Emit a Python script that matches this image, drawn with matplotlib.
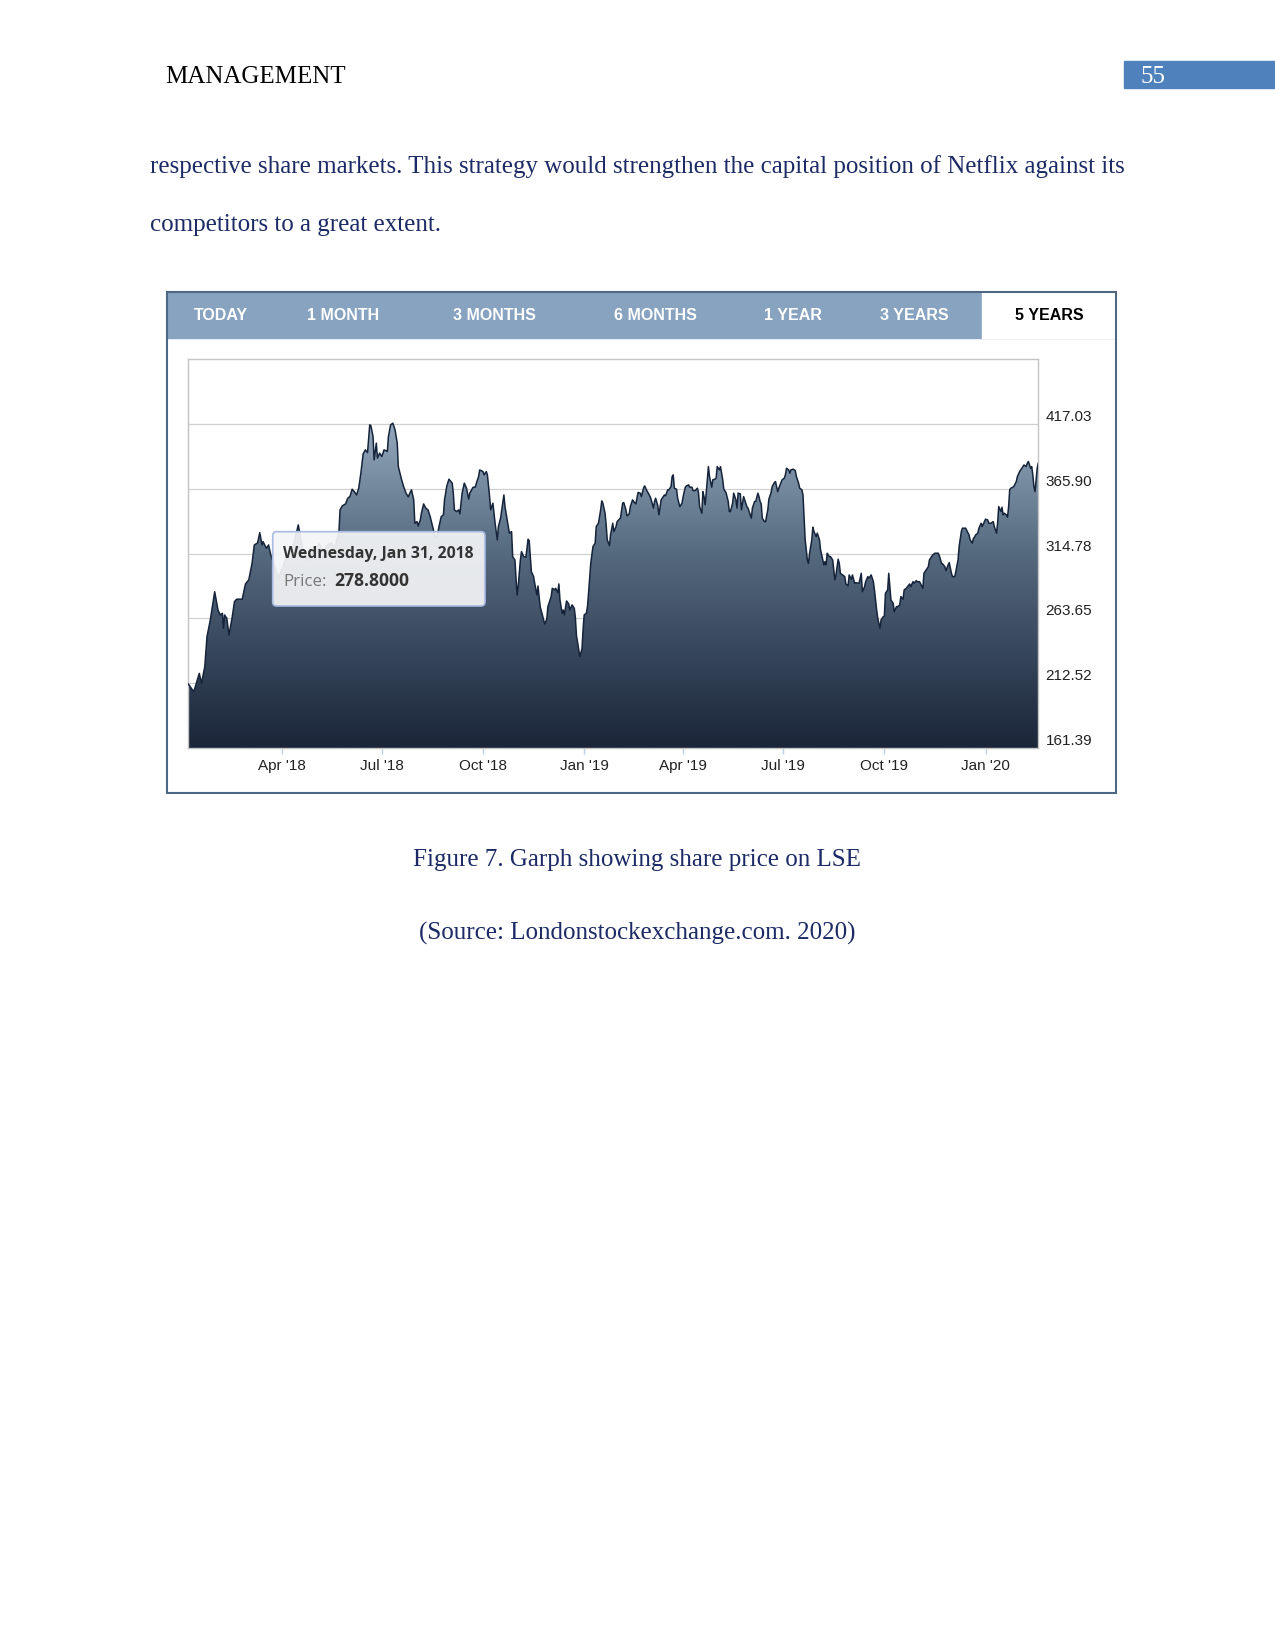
import numpy as np
import pandas as pd
import matplotlib
matplotlib.use("Agg")
import matplotlib.pyplot as plt
import matplotlib.dates as mdates
from matplotlib.colors import LinearSegmentedColormap
from matplotlib.patches import Rectangle, FancyBboxPatch
from matplotlib.transforms import Affine2D

# Share price (day = days since 2018-01-01)
day = [5, 10, 15, 17, 20, 22, 25, 29, 32, 34, 36, 37, 38, 40, 42, 45, 47, 49, 54, 57,
       60, 63, 65, 68, 70, 72, 73, 76, 78, 80, 83, 87, 90, 94, 98, 101, 105, 107, 109, 113,
       117, 120, 124, 128, 131, 135, 138, 142, 143, 145, 148, 150, 152, 154, 156, 158, 160, 162, 164, 166,
       168, 170, 171, 173, 174, 176, 177, 179, 181, 183, 186, 187, 189, 191, 193, 195, 196, 199, 201, 203,
       205, 207, 208, 210, 211, 213, 214, 216, 217, 219, 221, 223, 225, 227, 229, 231, 233, 235, 237, 238,
       240, 242, 245, 246, 247, 249, 251, 252, 254, 256, 258, 260, 261, 264, 266, 267, 269, 270, 273, 274,
       276, 277, 279, 280, 282, 284, 286, 287, 289, 292, 293, 295, 297, 299, 300, 302, 304, 305, 307, 308,
       310, 312, 314, 315, 317, 319, 320, 322, 323, 325, 327, 329, 331, 332, 335, 336, 338, 339, 341, 342,
       343, 345, 346, 347, 349, 351, 352, 354, 356, 357, 358, 360, 361, 363, 364, 365, 367, 368, 369, 371,
       373, 375, 376, 378, 380, 381, 382, 384, 385, 386, 388, 389, 391, 392, 394, 395, 397, 398, 400, 401,
       403, 404, 406, 407, 409, 410, 412, 414, 416, 417, 419, 420, 422, 423, 425, 426, 428, 429, 430, 432,
       433, 435, 436, 438, 439, 441, 442, 444, 445, 446, 447, 449, 450, 452, 454, 455, 457, 458, 460, 461,
       463, 464, 466, 468, 469, 470, 472, 473, 474, 475, 476, 478, 479, 481, 482, 484, 485, 486, 488, 489,
       491, 492, 494, 496, 497, 498, 500, 501, 503, 504, 505, 507, 508, 509, 510, 512, 513, 514, 516, 517,
       518, 520, 521, 523, 524, 525, 526, 527, 529, 530, 532, 533, 535, 536, 538, 539, 541, 542, 544, 545,
       547, 548, 549, 551, 552, 553, 555, 557, 558, 560, 561, 563, 564, 566, 567, 568, 569, 570, 572, 573,
       574, 576, 577, 579, 580, 582, 583, 584, 585, 586, 588, 589, 591, 593, 594, 596, 597, 598, 600, 602,
       603, 605, 606, 608, 609, 611, 612, 614, 615, 617, 618, 620, 621, 623, 624, 626, 628, 629, 631, 632,
       634, 635, 637, 638, 639, 641, 642, 643, 644, 646, 647, 649, 650, 652, 653, 655, 656, 658, 659, 661,
       662, 664, 665, 667, 668, 670, 671, 673, 674, 676, 678, 679, 681, 682, 684, 687, 688, 690, 691, 693,
       694, 696, 697, 699, 700, 702, 703, 705, 706, 708, 709, 712, 713, 715, 716, 718, 719, 720, 721, 723,
       724, 726, 727, 729, 730, 732, 733, 735, 737, 738, 740, 741, 742, 744, 745, 746, 747, 749, 750, 751,
       752, 753, 755, 756, 758, 759, 761, 762, 764, 765, 767, 768, 769, 770, 771, 772, 773, 774, 775, 776,
       777, 778]
price = [212.0, 205.9, 220.4, 212.6, 225.7, 249.3, 262.4, 284.7, 270.3, 266.4, 267.7, 255.9, 266.4, 263.8, 250.6, 265.0, 276.9, 278.8, 278.8, 290.8,
         294.0, 307.1, 321.5, 323.1, 331.2, 321.5, 324.1, 318.9, 321.5, 313.7, 305.8, 295.5, 301.8, 311.3, 317.6, 322.5, 337.3, 328.0, 318.5, 309.7,
         314.0, 318.1, 322.4, 315.2, 321.0, 323.2, 318.5, 332.0, 349.1, 352.3, 353.8, 358.3, 359.6, 365.4, 363.5, 360.9, 366.2, 378.5, 393.2, 396.4,
         394.3, 416.1, 415.5, 406.9, 388.5, 401.7, 389.9, 393.8, 391.1, 396.4, 395.1, 406.9, 416.1, 417.4, 412.2, 401.7, 383.2, 372.8, 367.0, 362.3,
         359.4, 363.3, 364.9, 357.0, 338.6, 339.9, 336.5, 341.2, 346.5, 353.8, 350.5, 349.1, 343.8, 336.5, 329.4, 327.1, 336.0, 343.8, 345.2, 357.0,
         367.5, 373.3, 370.2, 362.3, 349.1, 347.8, 349.1, 346.0, 362.3, 370.2, 366.2, 357.6, 362.3, 367.0, 367.0, 370.2, 375.4, 380.6, 379.3, 376.7,
         379.3, 376.7, 359.6, 349.1, 354.4, 338.6, 325.5, 336.0, 342.6, 360.9, 351.7, 341.2, 330.8, 332.0, 312.3, 309.7, 282.1, 288.7, 309.7, 316.3,
         312.3, 311.8, 326.0, 324.9, 300.5, 296.6, 291.4, 282.1, 289.2, 272.9, 266.4, 259.3, 263.0, 272.9, 280.8, 287.4, 286.1, 287.4, 284.0, 290.8,
         278.2, 267.7, 270.3, 266.4, 277.4, 275.0, 270.3, 274.3, 271.7, 264.5, 250.1, 239.6, 233.6, 239.6, 254.6, 266.4, 267.7, 272.9, 283.5, 307.1,
         320.2, 322.9, 336.0, 338.6, 349.1, 356.2, 354.4, 346.5, 337.3, 325.5, 321.0, 329.4, 338.6, 332.0, 336.0, 339.9, 341.8, 342.6, 354.4, 354.9,
         349.1, 344.4, 346.0, 351.7, 357.0, 355.7, 353.8, 362.8, 362.3, 359.6, 366.2, 368.0, 364.3, 362.8, 359.6, 357.0, 350.5, 355.7, 358.3, 352.3,
         345.2, 357.0, 358.3, 360.9, 360.2, 364.9, 364.9, 367.5, 375.4, 376.7, 366.2, 365.4, 358.3, 351.7, 354.4, 359.6, 367.0, 368.0, 368.8, 367.0,
         367.0, 364.3, 364.3, 366.2, 362.3, 351.7, 346.5, 363.5, 359.6, 353.1, 362.3, 383.2, 375.4, 367.0, 372.8, 373.3, 374.1, 383.2, 380.6, 383.2,
         372.8, 365.4, 362.8, 355.7, 347.8, 347.8, 354.4, 362.3, 357.0, 350.5, 362.3, 361.8, 349.1, 354.4, 359.6, 354.4, 351.7, 350.5, 345.2, 342.6,
         350.5, 355.7, 355.7, 362.3, 359.6, 355.7, 353.8, 342.6, 339.9, 339.9, 349.1, 357.6, 362.8, 367.5, 370.6, 371.4, 363.5, 366.2, 370.6, 372.8,
         374.1, 376.7, 381.9, 380.6, 378.0, 380.6, 381.2, 380.1, 375.4, 370.2, 366.2, 364.9, 360.9, 325.5, 317.6, 309.7, 307.1, 315.0, 325.5, 335.5,
         332.0, 328.1, 330.8, 325.5, 317.6, 309.7, 305.8, 308.3, 305.8, 315.0, 312.3, 312.3, 309.7, 294.0, 297.9, 310.3, 307.1, 299.2, 297.9, 296.6,
         290.8, 289.4, 297.9, 294.5, 297.9, 291.4, 291.8, 291.4, 291.4, 299.2, 284.7, 288.6, 292.6, 296.6, 295.3, 297.9, 292.6, 286.1, 270.3, 263.8,
         255.9, 262.4, 265.0, 265.6, 283.5, 286.1, 299.2, 288.6, 278.2, 275.6, 269.0, 272.9, 272.9, 274.3, 280.8, 278.8, 286.1, 287.4, 288.6, 290.8,
         288.6, 292.6, 291.4, 293.4, 292.6, 292.6, 290.8, 287.4, 299.2, 301.8, 304.4, 309.7, 312.3, 313.7, 315.0, 315.0, 312.9, 307.1, 306.6, 304.4,
         301.3, 305.8, 307.6, 299.2, 296.6, 296.6, 300.5, 309.7, 320.2, 332.0, 334.7, 334.7, 332.8, 329.4, 325.5, 322.9, 326.8, 327.6, 329.4, 330.8,
         334.7, 338.6, 336.0, 339.9, 341.8, 341.2, 338.6, 338.6, 339.9, 336.0, 330.8, 338.6, 351.7, 347.8, 351.2, 345.2, 346.5, 345.2, 343.4, 351.7,
         364.9, 366.2, 367.0, 368.0, 371.4, 375.4, 379.3, 380.6, 383.2, 384.5, 383.2, 385.9, 387.2, 384.5, 381.9, 383.2, 376.7, 367.5, 363.5, 372.8,
         381.9, 385.9]

y_ticks = [161.39, 212.52, 263.65, 314.78, 365.90, 417.03]
tabs = ['TODAY', '1 MONTH', '3 MONTHS', '6 MONTHS', '1 YEAR', '3 YEARS', '5 YEARS']
tip_date = 'Wednesday, Jan 31, 2018'
tip_price = '278.8000'

W, H = 1275, 1651
fig = plt.figure(figsize=(W / 100, H / 100), dpi=100)
# pixel coordinates measured from the top-left of the page
px = Affine2D().scale(1 / W, -1 / H).translate(0, 1) + fig.transFigure

navy = '#1c2a66'
serif = 'Liberation Serif'
sans = 'Liberation Sans'

# Page header and text
fig.text(165, 83, 'MANAGEMENT', transform=px, family=serif, fontsize=18, va='baseline')
fig.patches.append(Rectangle((1124, 61), 151, 27.5, transform=px, color='#4f81bd', zorder=1))
fig.text(1140, 83, '55', transform=px, family=serif, fontsize=18, color='white', va='baseline')
fig.text(150.5, 173.5, 'respective share markets. This strategy would strengthen the capital position of Netflix against its',
         transform=px, family=serif, fontsize=18, color=navy, va='baseline')
fig.text(150.5, 230.5, 'competitors to a great extent.', transform=px, family=serif, fontsize=18, color=navy, va='baseline')
fig.text(637, 866, 'Figure 7. Garph showing share price on LSE', transform=px, family=serif, fontsize=18,
         color=navy, ha='center', va='baseline')
fig.text(637, 940, '(Source: Londonstockexchange.com. 2020)', transform=px, family=serif, fontsize=18,
         color=navy, ha='center', va='baseline')

# Tab bar and frame
fig.patches.append(Rectangle((167, 292), 948, 46, transform=px, color='#87a3bf', zorder=1))
fig.patches.append(Rectangle((982, 292), 133, 46, transform=px, color='white', zorder=1))
fig.patches.append(Rectangle((166.7, 291.7), 949, 501, transform=px, fill=False,
                             edgecolor='#4e6884', lw=1.5, zorder=2))
tab_x = [221, 343.5, 494, 655.5, 792.5, 914.5, 1049]
for t, x in zip(tabs, tab_x):
    fig.text(x, 315.5, t, transform=px, family=sans, fontsize=11.5, weight='bold',
             color='black' if t == '5 YEARS' else 'white', ha='center', va='center')

# Chart
ymin = y_ticks[0]
ymax = y_ticks[0] + 6 * (y_ticks[1] - y_ticks[0])
dates = pd.Timestamp('2018-01-01') + pd.to_timedelta(day, unit='D')

ax = fig.add_axes([188.3 / W, 1 - 748.3 / H, 850 / W, 389.6 / H])
ax.plot(dates, price, color='#15243a', lw=1.1, zorder=3)
poly = ax.fill_between(dates, price, ymin, facecolor='none', edgecolor='none')

cmap = LinearSegmentedColormap.from_list('fill', ['#1a2538', '#55697f', '#b3c7db'])
grad = np.linspace(1, 0, 256).reshape(-1, 1)
x0, x1 = mdates.date2num(dates[0]), mdates.date2num(dates[-1])
im = ax.imshow(grad, extent=[x0, x1, ymin, ymax], aspect='auto', cmap=cmap,
               vmin=0, vmax=1, origin='upper', zorder=2)
im.set_clip_path(poly.get_paths()[0], transform=ax.transData)

ax.set_xlim(dates[0], dates[-1])
ax.set_ylim(ymin, ymax)
ax.set_yticks(y_ticks)
ax.set_yticklabels([f'{v:.2f}' for v in y_ticks])
ax.yaxis.tick_right()
ax.tick_params(axis='y', length=0, pad=5.3, labelsize=11, labelcolor='#222222')
for t in ax.yaxis.get_major_ticks():
    t.label2.set_verticalalignment('bottom')
    t.label2.set_family(sans)
ax.xaxis.set_major_locator(mdates.MonthLocator(bymonth=[1, 4, 7, 10]))
ax.xaxis.set_major_formatter(mdates.DateFormatter("%b '%y"))
ax.tick_params(axis='x', length=4, width=1, color='#c0d0e0', pad=4, labelsize=11, labelcolor='#222222')
for lab in ax.get_xticklabels():
    lab.set_family(sans)
ax.grid(axis='y', color='#d0d0d0', lw=0.9)
ax.set_axisbelow(True)
for s in ax.spines.values():
    s.set_color('#c4c4c4')
    s.set_linewidth(1)

# Tooltip
fig.patches.append(FancyBboxPatch((274, 533), 212, 74.3, transform=px, boxstyle='round,pad=0,rounding_size=4',
                                  facecolor='black', edgecolor='none', alpha=0.08, zorder=4))
fig.patches.append(FancyBboxPatch((272.7, 531.7), 212.3, 74.3, transform=px, boxstyle='round,pad=0,rounding_size=4',
                                  facecolor=(0.96, 0.965, 0.97, 0.92), edgecolor='#a8bbe2', lw=1.2, zorder=5))
fig.text(283.3, 558.3, tip_date, transform=px, family='Open Sans', fontsize=11.3, weight='bold',
         color='#333333', va='baseline', zorder=6)
fig.text(283.3, 586, 'Price:', transform=px, family='Open Sans', fontsize=12.2,
         color='#777777', va='baseline', zorder=6)
fig.text(334.3, 586, tip_price, transform=px, family='Open Sans', fontsize=12.6, weight='bold',
         color='#333333', va='baseline', zorder=6)

plt.savefig('out.png', dpi=100)
